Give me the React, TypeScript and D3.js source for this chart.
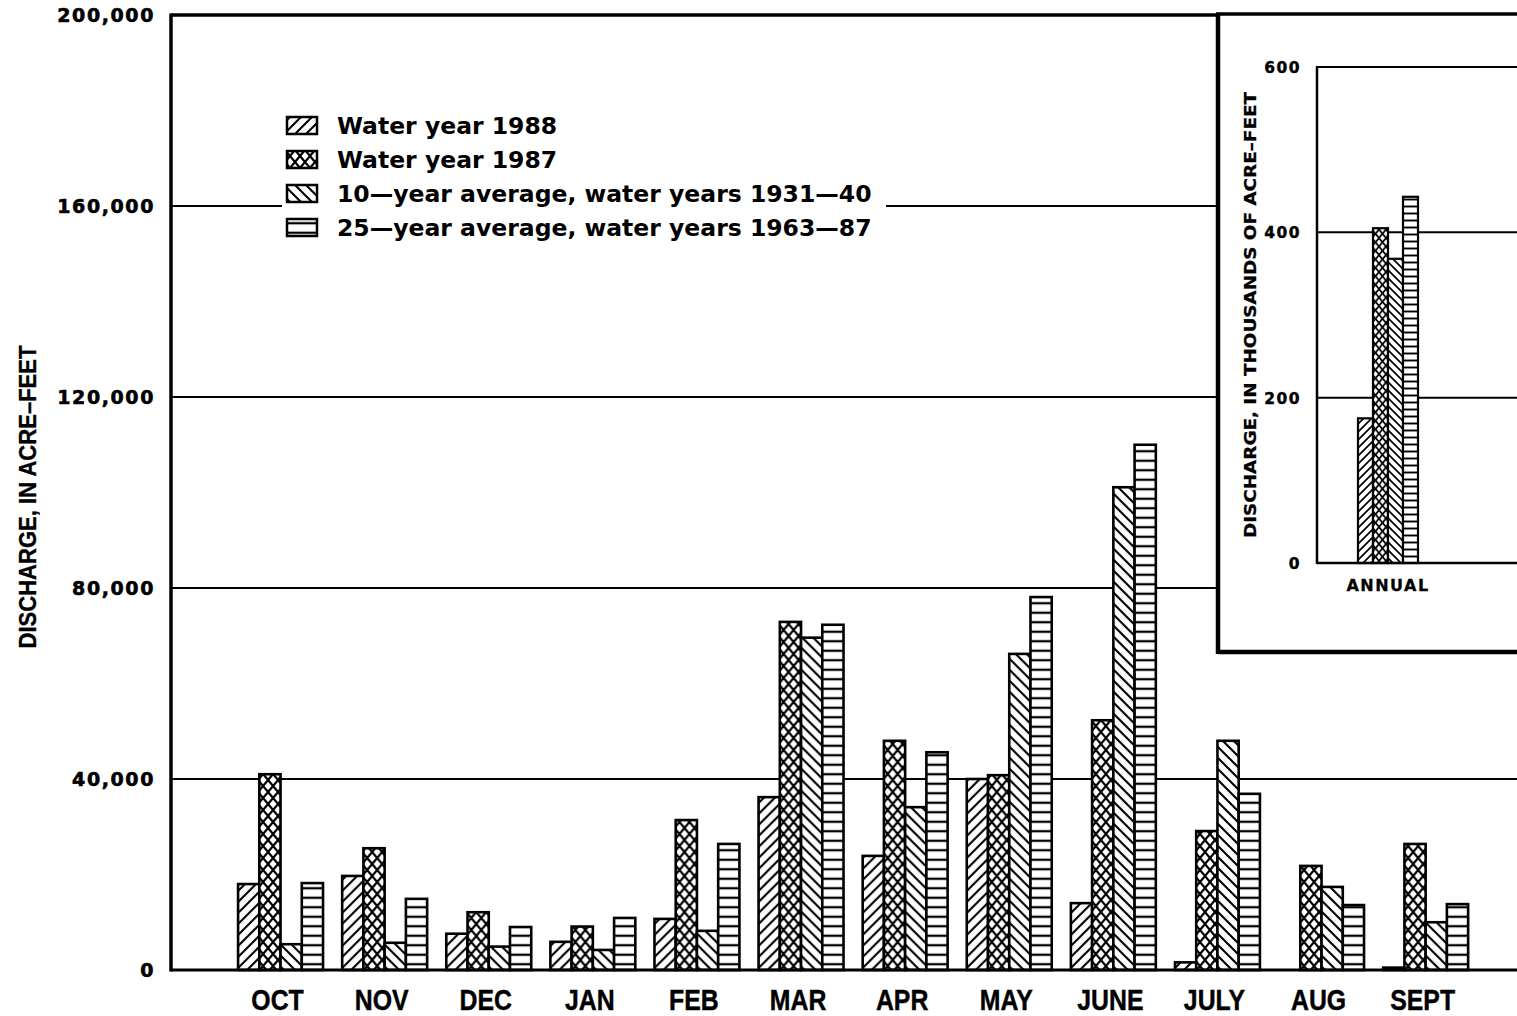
import React from "react";
import * as d3 from "d3";

const months = ["OCT", "NOV", "DEC", "JAN", "FEB", "MAR", "APR", "MAY", "JUNE", "JULY", "AUG", "SEPT"];
const seriesKeys = ["wy1988", "wy1987", "avg10", "avg25"];
const legendLabels = [
  "Water year 1988",
  "Water year 1987",
  "10—year average, water years 1931—40",
  "25—year average, water years 1963—87",
];
const wy1988 = [18000, 19700, 7600, 5900, 10700, 36200, 23900, 40000, 14000, 1600, 0, 500];
const wy1987 = [41000, 25500, 12100, 9100, 31400, 72900, 48000, 40800, 52300, 29100, 21800, 26400];
const avg10 = [5400, 5700, 4900, 4200, 8200, 69600, 34100, 66200, 101100, 48000, 17400, 10000];
const avg25 = [18200, 14900, 9000, 10900, 26400, 72300, 45600, 78100, 110000, 36900, 13600, 13800];
const mainTicks = [0, 40000, 80000, 120000, 160000, 200000];

const annualCategory = ["ANNUAL"];
const annualValues = [175, 405, 368, 443];
const insetTicks = [0, 200, 400, 600];

const seriesValues = [wy1988, wy1987, avg10, avg25];

const W = 1517;
const H = 1016;

export default function App() {
  const y = d3.scaleLinear().domain([0, 200000]).range([970, 15]);
  const x = d3.scaleBand<string>().domain(months).range([228.5, 1477.7]).paddingInner(0.184).paddingOuter(0.092);
  const xs = d3.scaleBand<string>().domain(seriesKeys).range([0, x.bandwidth()]).padding(0);

  const yi = d3.scaleLinear().domain([0, 600]).range([563, 67]);
  const xi = d3.scaleBand<string>().domain(annualCategory).range([1317, 1459]).paddingInner(0).paddingOuter(0.683);
  const xsi = d3.scaleBand<string>().domain(seriesKeys).range([0, xi.bandwidth()]).padding(0);

  const fmt = d3.format(",");
  const mainPat = ["p88", "p87", "p10", "p25"];
  const insetPat = ["q88", "q87", "q10", "q25"];

  const tickFont = "'DejaVu Sans', Verdana, sans-serif";
  const narrowFont = "'Liberation Sans Narrow', 'Arial Narrow', 'Liberation Sans', Arial, sans-serif";

  return (
    <svg width={W} height={H} viewBox={`0 0 ${W} ${H}`} style={{ position: "absolute", left: 0, top: 0, display: "block", background: "#fff" }}>
      <defs>
        <pattern id="p88" patternUnits="userSpaceOnUse" width="11" height="11">
          <path d="M-1,12 L12,-1 M-3,3 L3,-3 M8,14 L14,8" stroke="#000" strokeWidth="2.1" />
        </pattern>
        <pattern id="p10" patternUnits="userSpaceOnUse" width="11" height="11">
          <path d="M-1,-1 L12,12 M-3,8 L3,14 M8,-3 L14,3" stroke="#000" strokeWidth="2.1" />
        </pattern>
        <pattern id="p87" patternUnits="userSpaceOnUse" width="10" height="12">
          <path d="M0,0 L10,12 M10,0 L0,12" stroke="#000" strokeWidth="2.2" />
        </pattern>
        <pattern id="p25" patternUnits="userSpaceOnUse" width="10" height="9.5">
          <path d="M0,4.75 H10" stroke="#000" strokeWidth="2.3" />
        </pattern>
        <pattern id="q88" patternUnits="userSpaceOnUse" width="8" height="8">
          <path d="M-1,9 L9,-1 M-3,3 L3,-3 M5,11 L11,5" stroke="#000" strokeWidth="1.7" />
        </pattern>
        <pattern id="q10" patternUnits="userSpaceOnUse" width="8" height="8">
          <path d="M-1,-1 L9,9 M-3,5 L3,11 M5,-3 L11,3" stroke="#000" strokeWidth="1.7" />
        </pattern>
        <pattern id="q87" patternUnits="userSpaceOnUse" width="7" height="8.5">
          <path d="M0,0 L7,8.5 M7,0 L0,8.5" stroke="#000" strokeWidth="1.7" />
        </pattern>
        <pattern id="q25" patternUnits="userSpaceOnUse" width="8" height="7">
          <path d="M0,3.5 H8" stroke="#000" strokeWidth="1.9" />
        </pattern>
      </defs>

      {/* main gridlines */}
      {mainTicks.filter((t) => t > 0 && t < 200000).map((t) => (
        <line key={t} x1={171} x2={W} y1={y(t)} y2={y(t)} stroke="#000" strokeWidth={2} />
      ))}

      {/* main bars */}
      {months.map((m, i) => (
        <g key={m} transform={`translate(${x(m)},0)`}>
          {seriesKeys.map((k, s) => {
            const v = seriesValues[s][i];
            if (v <= 0) return null;
            const top = y(v);
            return (
              <g key={k}>
                <rect x={xs(k)} y={top} width={xs.bandwidth()} height={y(0) - top} fill="#fff" />
                <rect x={xs(k)} y={top} width={xs.bandwidth()} height={y(0) - top}
                  fill={`url(#${mainPat[s]})`} stroke="#000" strokeWidth={2.6} />
              </g>
            );
          })}
        </g>
      ))}

      {/* main frame */}
      <line x1={171} x2={W} y1={y(200000)} y2={y(200000)} stroke="#000" strokeWidth={3.5} />
      <line x1={171} x2={W} y1={y(0)} y2={y(0)} stroke="#000" strokeWidth={3} />
      <line x1={171} x2={171} y1={y(200000) - 1.5} y2={y(0) + 1.5} stroke="#000" strokeWidth={3.5} />

      {/* main tick labels */}
      {mainTicks.map((t) => (
        <text key={t} x={155} y={y(t) + 7} textAnchor="end" fontFamily={tickFont} fontWeight="900"
          fontSize={19} letterSpacing={1.6} stroke="#000" strokeWidth={0.6}>{fmt(t)}</text>
      ))}

      {/* month labels */}
      {months.map((m) => (
        <text key={m} transform={`translate(${(x(m) as number) + x.bandwidth() / 2 - 3},1010) scale(0.92,1.12)`}
          textAnchor="middle" fontFamily={narrowFont} fontWeight="bold" fontSize={27} stroke="#000" strokeWidth={0.4}>{m}</text>
      ))}

      {/* y title */}
      <text transform={`translate(36,497) rotate(-90) scale(1,0.9)`} textAnchor="middle" fontFamily={narrowFont}
        fontWeight="bold" fontSize={26} textLength={303} lengthAdjust="spacingAndGlyphs" stroke="#000" strokeWidth={0.4}>DISCHARGE, IN ACRE–FEET</text>

      {/* legend */}
      <rect x={282} y={106} width={604} height={138} fill="#fff" />
      {legendLabels.map((lab, i) => {
        const cy = 125 + i * 34;
        return (
          <g key={lab}>
            <rect x={287} y={cy - 8} width={30} height={17} fill="#fff" />
            <rect x={287} y={cy - 8} width={30} height={17} fill={`url(#${mainPat[i]})`} stroke="#000" strokeWidth={2.5} />
            <text x={337} y={cy + 9} fontFamily={tickFont} fontWeight="bold" fontSize={23.5}>{lab}</text>
          </g>
        );
      })}

      {/* inset */}
      <rect x={1218} y={14} width={W - 1218 + 10} height={652 - 14} fill="#fff" />
      <line x1={1218} x2={W} y1={652} y2={652} stroke="#000" strokeWidth={4.5} />
      <line x1={1218} x2={1218} y1={14} y2={654} stroke="#000" strokeWidth={4.5} />
      <line x1={1216} x2={W} y1={14} y2={14} stroke="#000" strokeWidth={3.5} />

      {insetTicks.filter((t) => t > 0).map((t) => (
        <line key={t} x1={1317} x2={W} y1={yi(t)} y2={yi(t)} stroke="#000" strokeWidth={2} />
      ))}
      {annualCategory.map((c) => (
        <g key={c} transform={`translate(${xi(c)},0)`}>
          {seriesKeys.map((k, s) => {
            const top = yi(annualValues[s]);
            return (
              <g key={k}>
                <rect x={xsi(k)} y={top} width={xsi.bandwidth()} height={yi(0) - top} fill="#fff" />
                <rect x={xsi(k)} y={top} width={xsi.bandwidth()} height={yi(0) - top}
                  fill={`url(#${insetPat[s]})`} stroke="#000" strokeWidth={2.2} />
              </g>
            );
          })}
        </g>
      ))}
      <line x1={1317} x2={W} y1={yi(0)} y2={yi(0)} stroke="#000" strokeWidth={2.5} />
      <line x1={1317} x2={1317} y1={yi(600) - 1} y2={yi(0) + 1} stroke="#000" strokeWidth={2.5} />

      {insetTicks.map((t) => (
        <text key={t} x={1301} y={yi(t) + 6} textAnchor="end" fontFamily={tickFont} fontWeight="bold"
          fontSize={15.5} letterSpacing={1.5} stroke="#000" strokeWidth={0.4}>{t}</text>
      ))}
      {annualCategory.map((c) => (
        <text key={c} x={(xi(c) as number) + xi.bandwidth() / 2} y={591} textAnchor="middle" fontFamily={tickFont}
          fontWeight="bold" fontSize={16} letterSpacing={1.5} stroke="#000" strokeWidth={0.3}>{c}</text>
      ))}
      <text transform={`translate(1256,315) rotate(-90)`} textAnchor="middle" fontFamily={tickFont}
        fontWeight="bold" fontSize={15.5} textLength={446} lengthAdjust="spacingAndGlyphs" stroke="#000" strokeWidth={0.3}>DISCHARGE, IN THOUSANDS OF ACRE–FEET</text>
    </svg>
  );
}
